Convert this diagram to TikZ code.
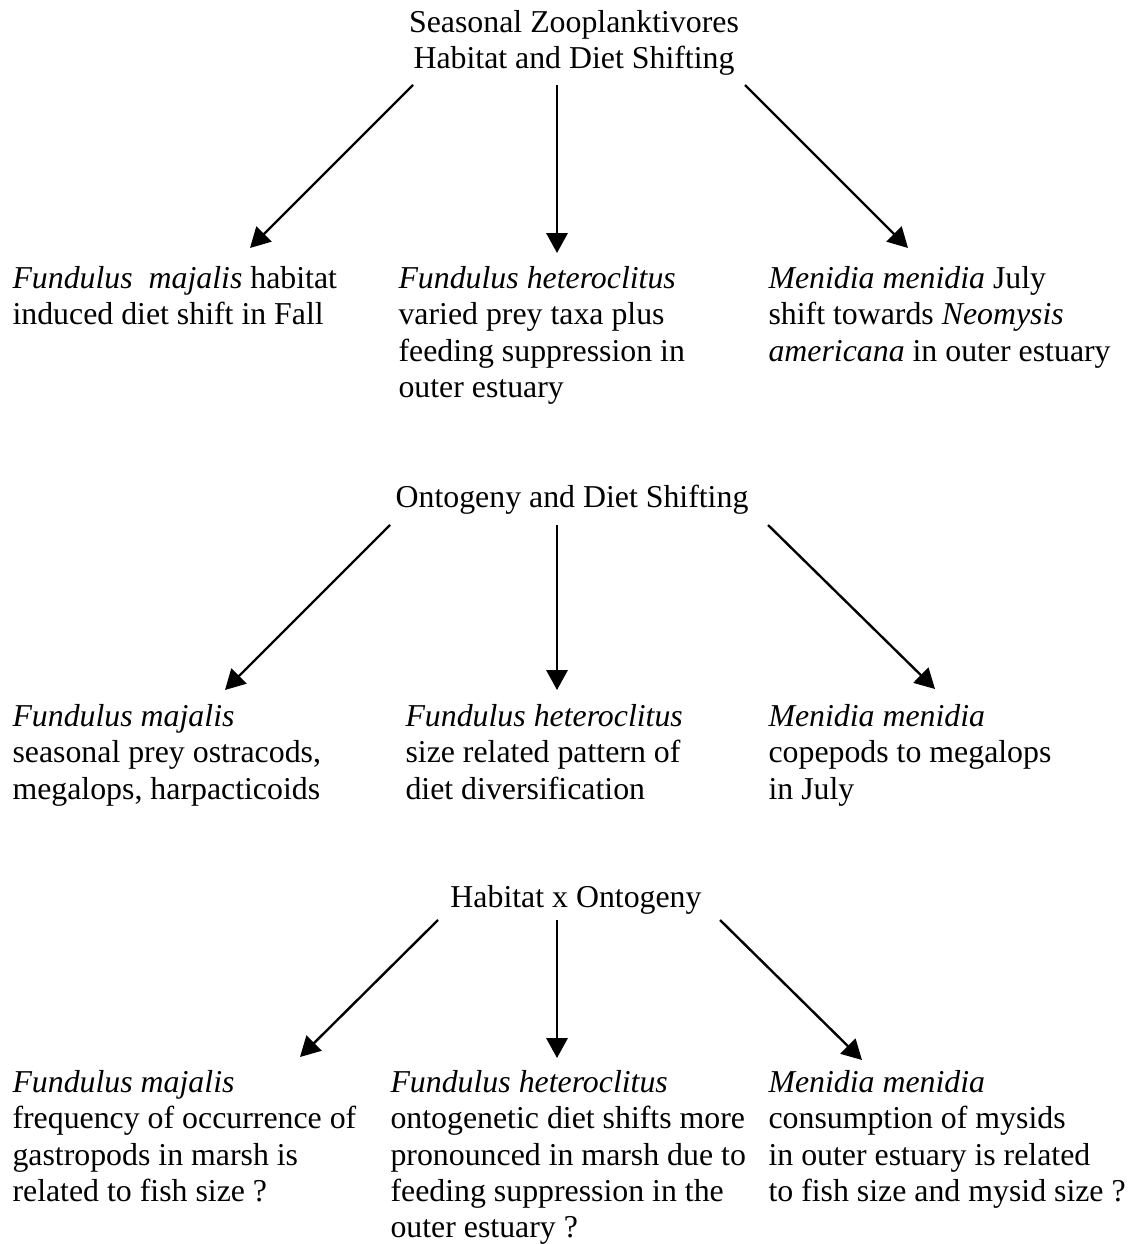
\documentclass[tikz,border=0pt]{standalone}
\usepackage{fontspec}
\setmainfont{Liberation Serif}
\usetikzlibrary{arrows.meta}
\begin{document}
\begin{tikzpicture}[x=0.377pt,y=-0.377pt,
  txt/.style={anchor=north west,align=left,inner sep=0pt,font=\fontsize{12}{13.7}\selectfont},
  ttl/.style={anchor=north,align=center,inner sep=0pt,font=\fontsize{12}{13.7}\selectfont},
  arr/.style={-{Triangle[length=7.5pt,width=8pt]},line width=0.9pt}]
\useasboundingbox (0,0) rectangle (1129,1244);
% titles
\node[ttl] (t1) at (574,10) {Seasonal Zooplanktivores\\Habitat and Diet Shifting};
\node[ttl] (t2) at (572,485) {Ontogeny and Diet Shifting};
\node[ttl] (t3) at (576,885) {Habitat x Ontogeny};
% row 1
\node[txt] (a1) at (12,266) {\textit{Fundulus\ \ majalis} habitat\\induced diet shift in Fall};
\node[txt] (b1) at (398,266) {\textit{Fundulus heteroclitus}\\varied prey taxa plus\\feeding suppression in\\outer estuary};
\node[txt] (c1) at (768,266) {\textit{Menidia menidia} July\\shift towards \textit{Neomysis}\\\textit{americana} in outer estuary};
% row 2
\node[txt] (a2) at (12,704) {\textit{Fundulus majalis}\\seasonal prey ostracods,\\megalops, harpacticoids};
\node[txt] (b2) at (405,704) {\textit{Fundulus heteroclitus}\\size related pattern of\\diet diversification};
\node[txt] (c2) at (768,704) {\textit{Menidia menidia}\\copepods to megalops\\in July};
% row 3
\node[txt] (a3) at (12,1070) {\textit{Fundulus majalis}\\frequency of occurrence of\\gastropods in marsh is\\related to fish size ?};
\node[txt] (b3) at (390,1070) {\textit{Fundulus heteroclitus}\\ontogenetic diet shifts more\\pronounced in marsh due to\\feeding suppression in the\\outer estuary ?};
\node[txt] (c3) at (768,1070) {\textit{Menidia menidia}\\consumption of mysids\\in outer estuary is related\\to fish size and mysid size ?};
% arrow endpoints
\coordinate (s1a) at (413,85);  \coordinate (e1a) at (250,248);
\coordinate (s1b) at (557,85);  \coordinate (e1b) at (557,253);
\coordinate (s1c) at (745,85);  \coordinate (e1c) at (908,248);
\coordinate (s2a) at (390,525); \coordinate (e2a) at (225,690);
\coordinate (s2b) at (557,525); \coordinate (e2b) at (557,690);
\coordinate (s2c) at (768,525); \coordinate (e2c) at (935,689);
\coordinate (s3a) at (438,920); \coordinate (e3a) at (300,1057);
\coordinate (s3b) at (557,920); \coordinate (e3b) at (557,1058);
\coordinate (s3c) at (720,920); \coordinate (e3c) at (862,1060);
\foreach \r in {1,2,3}{
  \foreach \c in {a,b,c}{
    \draw[arr] (s\r\c) -- (e\r\c);
  }
}
\end{tikzpicture}
\end{document}
